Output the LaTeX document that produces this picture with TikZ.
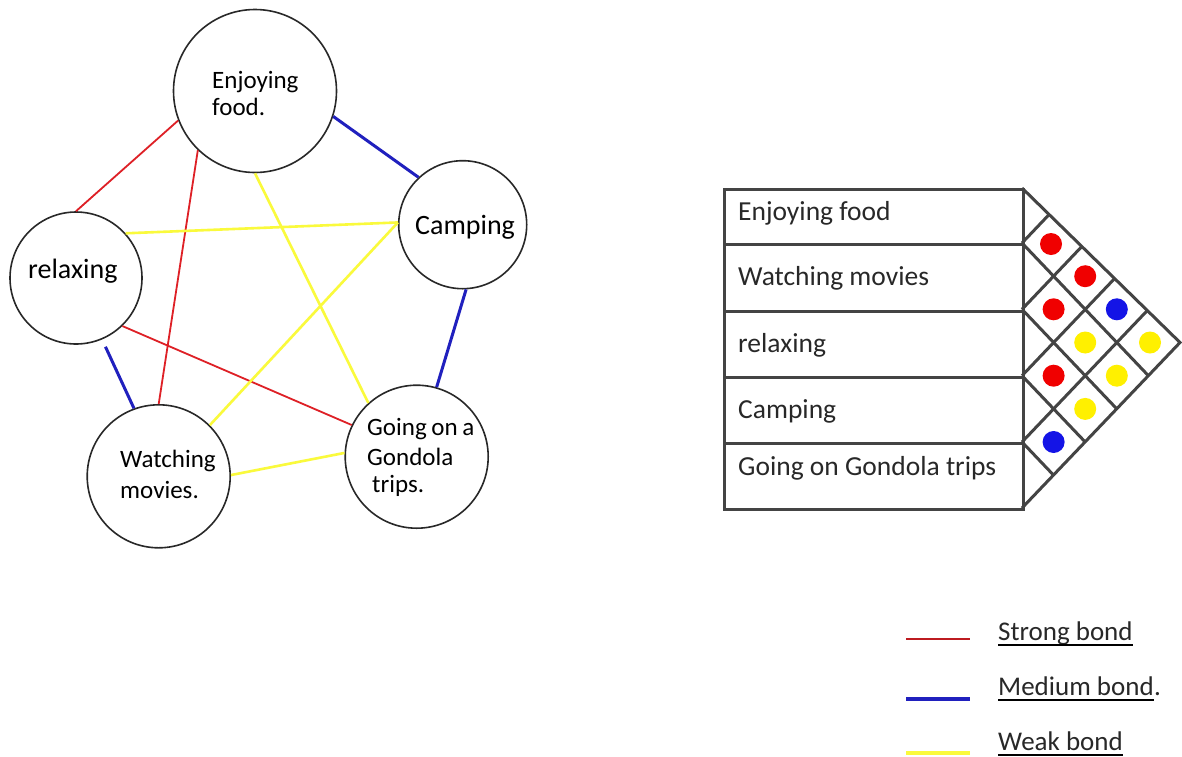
\documentclass[tikz,border=0pt]{standalone}
\usepackage{fontspec}
\setmainfont{Carlito}
\definecolor{redl}{RGB}{222,32,38}
\definecolor{bluel}{RGB}{32,32,190}
\definecolor{yell}{RGB}{250,250,60}
\definecolor{redd}{RGB}{240,0,0}
\definecolor{blued}{RGB}{20,20,230}
\definecolor{yeld}{RGB}{255,240,0}
\definecolor{ink}{RGB}{40,40,40}
\definecolor{tline}{RGB}{68,68,68}
\begin{document}
\begin{tikzpicture}[x=1pt,y=-1pt,
  bub/.style={circle,draw=ink,line width=1.6pt,minimum size=#1,inner sep=0pt},
  ctxt/.style={anchor=base west,inner sep=0pt,font=\fontsize{25}{30}\selectfont,text=black},
  ctxtb/.style={anchor=base west,inner sep=0pt,font=\fontsize{28}{33}\selectfont,text=black},
  rowbox/.style={draw=tline,line width=3pt,minimum width=299pt,anchor=north west,inner sep=0pt},
  rtxt/.style={anchor=base west,inner sep=0pt,font=\fontsize{27.5}{33}\selectfont,text=ink},
  ltxt/.style={anchor=base west,inner sep=0pt,font=\fontsize{27}{32}\selectfont,text=ink},
  strong/.style={draw=redl,line width=1.8pt},
  medium/.style={draw=bluel,line width=3pt},
  weak/.style={draw=yell,line width=2.6pt},
  grid/.style={draw=tline,line width=3pt},
  dot/.style={circle,fill=#1,minimum size=22pt,inner sep=0pt}
]
\useasboundingbox (0,0) rectangle (1182,756);
\fill[white] (0,0) rectangle (1182,756);

% ---------- graph ----------
\node[bub=163pt] (food) at (255,91) {};
\node[bub=128pt] (camp) at (462.7,224.7) {};
\node[bub=132pt] (relax) at (76,278) {};
\node[bub=143pt] (watch) at (158.7,476.3) {};
\node[bub=143pt] (gond) at (416.7,456.7) {};

\node[ctxt] (food1) at (212,88) {Enjoying};
\node[ctxt] (food2) at (212,115) {food.};
\node[ctxtb] (camp1) at (415,234) {Camping};
\node[ctxtb] (relax1) at (28,278) {relaxing};
\node[ctxt] (watch1) at (120,467) {Watching};
\node[ctxt] (watch2) at (120,498) {movies.};
\node[ctxt] (gond1) at (367,435) {Going\kern-1pt\ on\kern-1pt\ a};
\node[ctxt] (gond2) at (367,465) {Gondola};
\node[ctxt] (gond3) at (372,492) {trips.};

\draw[medium] (food.-18.5) -- (camp.133.7);
\draw[strong] (food.201.4) -- (relax.90);
\draw[strong] (food.226.2) -- (watch.90);
\draw[weak] (food.270) -- (gond.132.3);
\draw[weak] (relax.42.4) -- (camp.178.2);
\draw[strong] (relax.314.2) -- (gond.154.2);
\draw[medium,shorten <=8pt] (relax.-67) -- (watch.110);
\draw[weak] (camp.178.2) -- (watch.45);
\draw[medium] (camp.-87) -- (gond.74);
\draw[weak] (watch.1) -- (gond.177.3);

% ---------- table ----------
\node[rowbox,minimum height=55pt] (row1) at (723,188) {};
\node[rowbox,minimum height=67pt] (row2) at (723,243) {};
\node[rowbox,minimum height=66pt] (row3) at (723,310) {};
\node[rowbox,minimum height=66pt] (row4) at (723,376) {};
\node[rowbox,minimum height=66pt] (row5) at (723,442) {};

\node[rtxt] (rt1) at (738,220) {Enjoying food};
\node[rtxt] (rt2) at (738,285) {Watching movies};
\node[rtxt] (rt3) at (738,352) {relaxing};
\node[rtxt] (rt4) at (738,418) {Camping};
\node[rtxt] (rt5) at (738,475) {Going on Gondola trips};

% diamond grid
\draw[grid,line join=miter] (1022,188) -- (1180,342.5) -- (1022,508);
\draw[grid] (1022,243) -- (1148.4,375.7);
\draw[grid] (1022,309.3) -- (1116.8,408.9);
\draw[grid] (1022,375.7) -- (1085.2,442);
\draw[grid] (1022,442) -- (1053.6,475.2);
\draw[grid] (1022,243) -- (1049.1,214.5);
\draw[grid] (1022,309.3) -- (1081.8,246.5);
\draw[grid] (1022,375.7) -- (1114.6,278.5);
\draw[grid] (1022,442) -- (1147.3,310.5);

\node[dot=redd] (d1) at (1051,244) {};
\node[dot=redd] (d2) at (1085.2,276.2) {};
\node[dot=redd] (d3) at (1053.6,309.3) {};
\node[dot=blued] (d4) at (1116.8,309.3) {};
\node[dot=yeld] (d5) at (1085.2,342.5) {};
\node[dot=yeld] (d6) at (1150,342.5) {};
\node[dot=redd] (d7) at (1053.6,375.7) {};
\node[dot=yeld] (d8) at (1116.8,375.7) {};
\node[dot=yeld] (d9) at (1085.2,408.9) {};
\node[dot=blued] (d10) at (1053.6,442) {};

% ---------- legend ----------
\coordinate (ls1) at (906,639); \coordinate (le1) at (970,639);
\coordinate (ls2) at (906,699); \coordinate (le2) at (970,699);
\coordinate (ls3) at (906,753); \coordinate (le3) at (970,753);
\draw[draw=redl!85!black,line width=2pt] (ls1) -- (le1);
\draw[draw=bluel,line width=4pt] (ls2) -- (le2);
\draw[draw=yell,line width=4pt] (ls3) -- (le3);

\node[ltxt] (lg1) at (998,640) {Strong bond};
\node[ltxt] (lg2) at (998,695) {Medium bond};
\node[ltxt,anchor=base west] (lg2p) at (lg2.base east) {.};
\node[ltxt] (lg3) at (998,750) {Weak bond};
\draw[black,line width=1.5pt] ([yshift=-5pt]lg1.base west) -- ([yshift=-5pt]lg1.base east);
\draw[black,line width=1.5pt] ([yshift=-5pt]lg2.base west) -- ([yshift=-5pt]lg2.base east);
\draw[black,line width=1.5pt] ([yshift=-5pt]lg3.base west) -- ([yshift=-5pt]lg3.base east);
\end{tikzpicture}
\end{document}
